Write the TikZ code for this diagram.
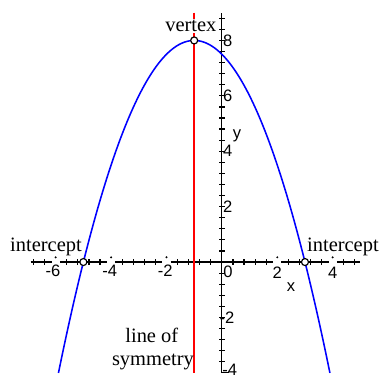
\documentclass[tikz,border=0pt]{standalone}
\usepackage{fontspec}
\setmainfont{Liberation Serif}
\newfontfamily\numfont{Liberation Sans}
\begin{document}
\begin{tikzpicture}[x=0.5cm,y=0.5cm,
  axis/.style={black, line width=0.6pt},
  tickmark/.style={black, line width=0.6pt},
  curve/.style={blue, line width=0.8pt},
  symline/.style={red, line width=0.9pt},
  lbl/.style={font=\fontsize{10.5}{12}\selectfont, inner sep=0.5pt},
  num/.style={font=\numfont\fontsize{8.5}{10}\selectfont, inner sep=0pt},
  pt/.style={circle, draw=black, fill=white, line width=0.6pt, minimum size=3.6pt, inner sep=0pt}]
\fill[white] (-8.01,-4.19) rectangle (5.78,9.46);
\useasboundingbox (-8.01,-4.19) rectangle (5.78,9.46);
% x-axis with gaps at labelled ticks
\foreach \a/\b in {-6.9/-6.15,-5.85/-4.15,-3.85/-2.15,-1.85/1.85,2.15/3.85,4.15/5.0}
  \draw[axis] (\a,0) -- (\b,0);
\foreach \i in {-17,...,12}{
  \pgfmathtruncatemacro\m{mod(abs(\i),5)}
  \ifnum\m>0 \draw[tickmark] (\i*0.4,-0.1) -- (\i*0.4,0.1);\fi
}
\foreach \k in {-6,-4,-2,2,4} \fill (\k,0.17) circle (0.04);
% y-axis
\draw[axis] (0,-4) -- (0,9);
\foreach \i in {-9,...,22} \draw[tickmark] (-0.1,\i*0.4) -- (0.1,\i*0.4);
\draw[tickmark] (0,-4) -- (0.25,-4);
% line of symmetry
\draw[symline] (-1,9.0) -- (-1,-4);
% parabola
\draw[curve, domain=-5.9:3.9, samples=100, smooth] plot (\x,{8-(\x+1)^2/2});
% points
\node[pt] (vtx) at (-1,8) {};
\node[pt] (xl) at (-5,0) {};
\node[pt] (xr) at (3,0) {};
% labels
\node[lbl, fill=white] (vertexlbl) at (-1.12,8.52) {vertex};
\node[lbl] (intl) at (-6.35,0.54) {intercept};
\node[lbl] (intr) at (4.37,0.54) {intercept};
\node[lbl] (los1) at (-2.53,-2.64) {line of};
\node[lbl] (los2) at (-2.49,-3.61) {symmetry};
% tick numbers
\node[num, anchor=west] (y8) at (0.03,8) {8};
\node[num, anchor=west] (y6) at (0.03,6) {6};
\node[num, anchor=west] (y4) at (0.03,4) {4};
\node[num, anchor=west] (y2) at (0.03,2) {2};
\node[num, anchor=west] (ym2) at (0.1,-2) {\llap{-}2};
\node[num, anchor=west] (ym4) at (0.2,-3.9) {\llap{-}4};
\node[num] (xm6) at (-6,-0.33) {\llap{-}6};
\node[num] (xm4) at (-3.95,-0.33) {\llap{-}4};
\node[num] (xm2) at (-1.95,-0.33) {\llap{-}2};
\node[num] (x0) at (0.22,-0.36) {0};
\node[num] (x2) at (2,-0.38) {2};
\node[num] (x4) at (4,-0.38) {4};
\node[num] (xlab) at (2.5,-0.9) {x};
\node[num] (ylab) at (0.55,4.55) {y};
\end{tikzpicture}
\end{document}
